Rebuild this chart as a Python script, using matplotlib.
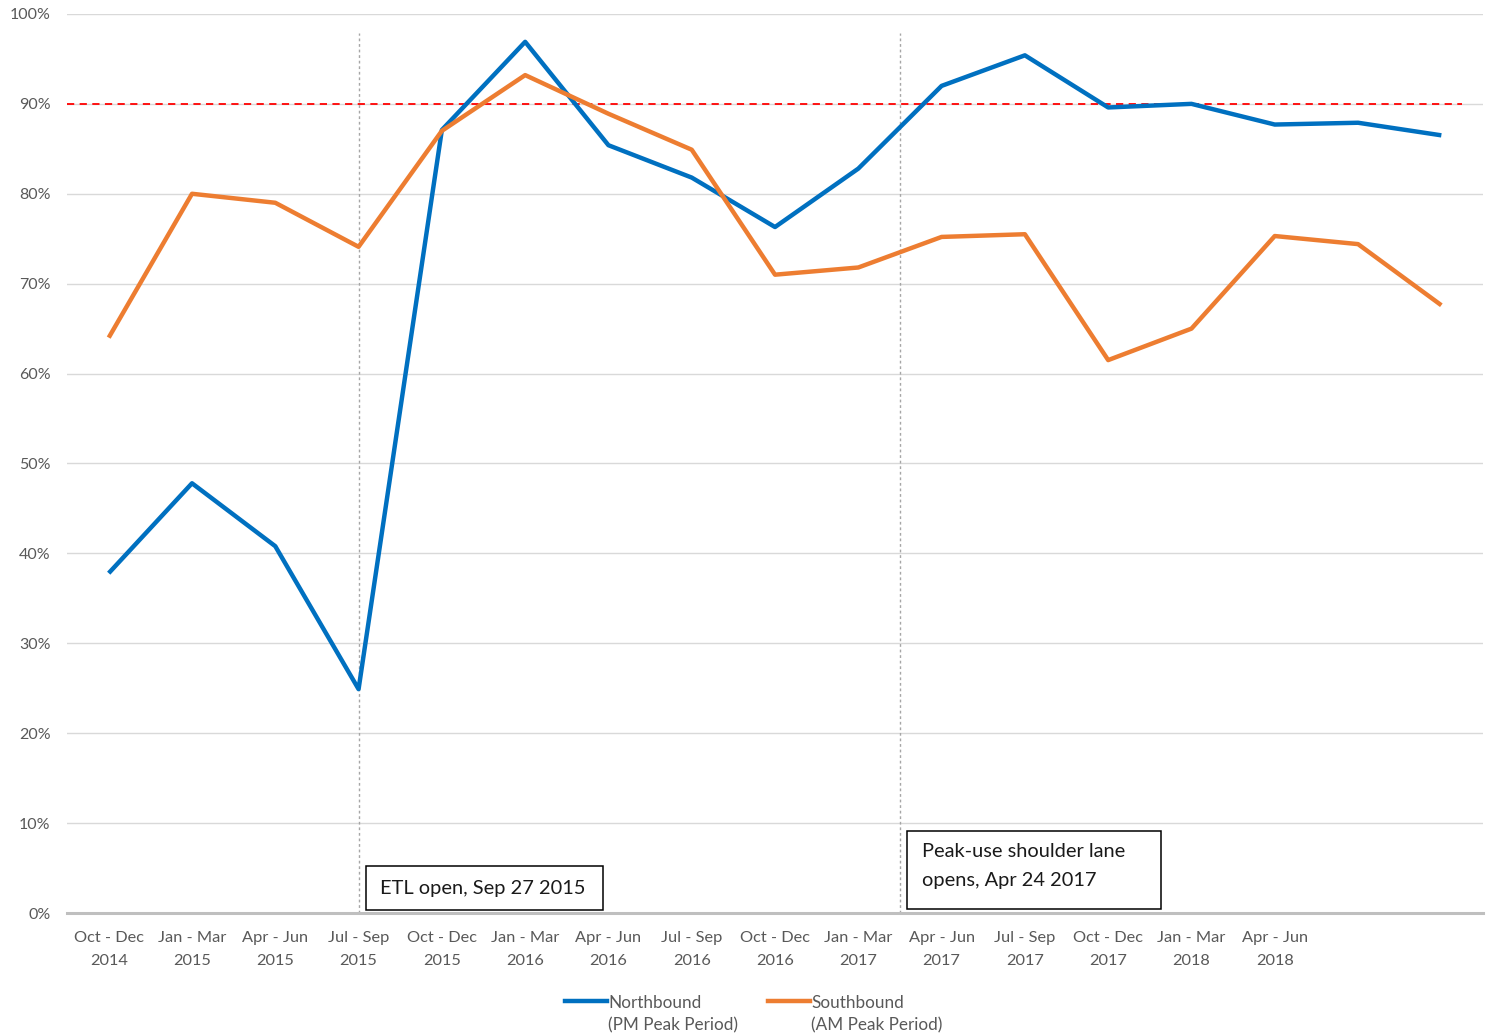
import matplotlib
matplotlib.use("Agg")
import matplotlib.pyplot as plt
from matplotlib.lines import Line2D
from matplotlib.patches import Rectangle
import matplotlib.ticker as ticker

plt.rcParams['font.family'] = ['Lato', 'DejaVu Sans']

quarters = ["Oct - Dec\n2014", "Jan - Mar\n2015", "Apr - Jun\n2015", "Jul - Sep\n2015",
            "Oct - Dec\n2015", "Jan - Mar\n2016", "Apr - Jun\n2016", "Jul - Sep\n2016",
            "Oct - Dec\n2016", "Jan - Mar\n2017", "Apr - Jun\n2017", "Jul - Sep\n2017",
            "Oct - Dec\n2017", "Jan - Mar\n2018", "Apr - Jun\n2018", "", ""]

northbound = [37.8, 47.8, 40.8, 24.9, 87.1, 96.9, 85.4, 81.8, 76.3, 82.8,
              92.0, 95.4, 89.6, 90.0, 87.7, 87.9, 86.5]
southbound = [64.0, 80.0, 79.0, 74.1, 87.0, 93.2, 88.9, 84.9, 71.0, 71.8,
              75.2, 75.5, 61.5, 65.0, 75.3, 74.4, 67.6]

target = 90
etl_open = 3
shoulder_open = 9.5

colors = {"nb": "#0070C0", "sb": "#ED7D31"}
tick_color = "#595959"

fig = plt.figure(figsize=(14.87, 10.34), dpi=100)
ax = fig.add_axes([0.0451, 0.117, 0.9522, 0.8695])

x = list(range(len(northbound)))
ax.plot(x, northbound, color=colors["nb"], linewidth=3.2, solid_capstyle='butt', zorder=4)
ax.plot(x, southbound, color=colors["sb"], linewidth=3.2, solid_capstyle='butt', zorder=4)

# 90% target line
ax.plot([-0.5, 16.25], [target, target], color="#ff0000", linewidth=1.3,
        linestyle=(0, (4, 3)), zorder=3)

# event markers
for xv in [etl_open, shoulder_open]:
    ax.plot([xv, xv], [0, 97.9], color="#a6a6a6", linewidth=1.0,
            linestyle=(0, (2, 2)), zorder=2)

ax.set_xlim(-0.5, len(northbound) - 0.5)
ax.set_ylim(0, 100)
ax.yaxis.set_major_locator(ticker.MultipleLocator(10))
ax.yaxis.set_major_formatter(ticker.FuncFormatter(lambda v, pos: "{:d}%".format(int(round(v)))))
ax.grid(axis='y', color="#d9d9d9", linewidth=1.0, zorder=0)
ax.set_axisbelow(True)
for side in ["top", "right", "left"]:
    ax.spines[side].set_visible(False)
ax.spines["bottom"].set_color("#bfbfbf")
ax.spines["bottom"].set_linewidth(2.2)

ax.set_xticks(x)
ax.set_xticklabels(quarters, fontsize=11.8, color=tick_color, linespacing=1.85)
ax.tick_params(axis='x', length=0, pad=13)
ax.tick_params(axis='y', length=0, pad=12, labelsize=11.5, labelcolor=tick_color)

# annotation boxes
ax.add_patch(Rectangle((3.09, 0.35), 2.84, 4.85, facecolor="white", edgecolor="black",
                       linewidth=1.1, zorder=5))
ax.text(3.26, 2.75, "ETL open, Sep 27 2015", fontsize=14.4, color="#1a1a1a",
        va='center', ha='left', zorder=6)

ax.add_patch(Rectangle((9.59, 0.45), 3.04, 8.65, facecolor="white", edgecolor="black",
                       linewidth=1.1, zorder=5))
ax.text(9.76, 6.8, "Peak-use shoulder lane", fontsize=14.4, color="#1a1a1a",
        va='center', ha='left', zorder=6)
ax.text(9.76, 3.65, "opens, Apr 24 2017", fontsize=14.4, color="#1a1a1a",
        va='center', ha='left', zorder=6)

# legend drawn beneath the axis
W, H = 1487.0, 1034.0
for x0, x1, c, label in [(565, 607, colors["nb"], "Northbound\n(PM Peak Period)"),
                         (768, 810, colors["sb"], "Southbound\n(AM Peak Period)")]:
    fig.add_artist(Line2D([x0 / W, x1 / W], [1 - 1001 / H, 1 - 1001 / H],
                          color=c, linewidth=3.2, transform=fig.transFigure))
    fig.text((x1 + 1) / W, 1 - 995 / H, label, fontsize=12.3, color=tick_color,
             va='top', ha='left', linespacing=1.5)

fig.savefig("out.png", dpi=100)
